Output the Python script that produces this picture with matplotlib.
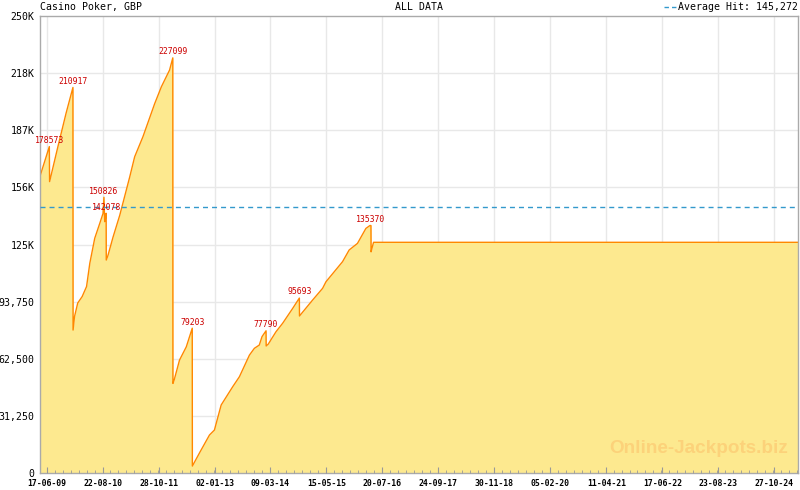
import datetime as dt
import numpy as np
import matplotlib
matplotlib.use("Agg")
import matplotlib.pyplot as plt
import matplotlib.dates as mdates

# ---- data ----
dates = ["2009-04-30", "2009-07-08", "2009-07-10", "2009-09-12", "2009-11-14",
         "2010-01-06", "2010-01-07", "2010-01-18", "2010-02-12", "2010-03-18",
         "2010-04-21", "2010-05-16", "2010-06-23", "2010-08-01", "2010-08-26",
         "2010-09-02", "2010-09-08", "2010-09-13", "2010-09-19", "2010-09-20",
         "2010-10-03", "2010-11-11", "2011-01-02", "2011-03-20", "2011-04-27",
         "2011-06-30", "2011-09-28", "2011-11-19", "2012-01-21", "2012-02-15",
         "2012-02-16", "2012-02-26", "2012-04-07", "2012-05-29", "2012-07-14",
         "2012-07-15", "2012-09-08", "2012-11-24", "2013-01-01", "2013-02-22",
         "2013-05-22", "2013-07-13", "2013-09-28", "2013-11-05", "2013-12-13",
         "2014-01-03", "2014-02-03", "2014-02-04", "2014-02-20", "2014-04-21",
         "2014-06-11", "2014-08-27", "2014-10-18", "2014-10-19", "2015-01-28",
         "2015-04-15", "2015-05-11", "2015-09-16", "2015-11-06", "2016-01-09",
         "2016-03-14", "2016-04-14", "2016-04-22", "2016-04-23", "2016-04-30",
         "2016-05-12", "2025-04-27"]
values = [163000, 178573, 159400, 178500, 196800,
          210917, 78200, 85500, 93000, 96500,
          102000, 114700, 128400, 136600, 142000,
          150826, 137500, 139000, 142078, 116500,
          119000, 129000, 141000, 162000, 173000,
          184000, 202000, 211300, 220400, 227099,
          49000, 51000, 61800, 69000, 79203,
          3800, 11000, 20800, 23500, 37200,
          47200, 52700, 64500, 68200, 70000,
          74600, 77790, 69500, 70500, 77300,
          81900, 90000, 95693, 85900, 94600,
          101000, 104600, 115600, 122000, 125600,
          133800, 135370, 135370, 121000, 123000,
          126200, 126200]

peak_dates = ["2009-07-08", "2010-01-06", "2010-09-02", "2010-09-19", "2012-02-15",
              "2012-07-14", "2014-02-03", "2014-10-18", "2016-04-18"]
peak_values = [178573, 210917, 150826, 142078, 227099, 79203, 77790, 95693, 135370]

average_hit = 145272

y_ticks = [0, 31250, 62500, 93750, 125000, 156250, 187500, 218750, 250000]
y_labels = ["0", "31,250", "62,500", "93,750", "125K", "156K", "187K", "218K", "250K"]
x_labels = ["17-06-09", "22-08-10", "28-10-11", "02-01-13", "09-03-14", "15-05-15",
            "20-07-16", "24-09-17", "30-11-18", "05-02-20", "11-04-21", "17-06-22",
            "23-08-23", "27-10-24"]

title_left = "Casino Poker, GBP"
title_center = "ALL DATA"
legend_text = "Average Hit: 145,272"
watermark = "Online-Jackpots.biz"

# ---- plotting ----
mono = "DejaVu Sans Mono"
fig = plt.figure(figsize=(8, 4.9), dpi=100)
ax = fig.add_axes([40 / 800, 17 / 490, 758 / 800, 457 / 490])

xmin = mdates.date2num(dt.datetime(2009, 4, 27))
xmax = mdates.date2num(dt.datetime(2025, 4, 28))

major = mdates.date2num([dt.datetime.strptime(s, "%d-%m-%y") for s in x_labels])
step = (major[1] - major[0]) / 7
minor = np.arange(major[0] - 7 * step, xmax, step)
minor = minor[(minor >= xmin) & (minor <= xmax)]

# grid drawn manually below the fill
for yv in y_ticks[1:-1]:
    ax.axhline(yv, color="#e8e8e8", lw=1.0, zorder=0.5)
for xv in major:
    ax.axvline(xv, color="#e8e8e8", lw=1.0, zorder=0.5)

x = mdates.date2num([dt.datetime.strptime(d, "%Y-%m-%d") for d in dates])
ax.fill_between(x, values, 0, color="#fde98f", lw=0, zorder=1)
ax.plot(x, values, color="#ff8800", lw=1.0, zorder=2)

ax.axhline(average_hit, color="#3399cc", lw=1.0, dashes=(3.6, 2.9), zorder=3)

px = mdates.date2num([dt.datetime.strptime(d, "%Y-%m-%d") for d in peak_dates])
for xi, v in zip(px, peak_values):
    ax.annotate(str(v), (xi, v), xytext=(0, 1.2), textcoords="offset points",
                ha="center", va="bottom", fontsize=5.9, family=mono,
                color="#cc0000", zorder=4)

ax.set_xticks(major)
ax.set_xticklabels(x_labels, family=mono, fontsize=5.9, fontweight="bold")
ax.set_xticks(minor, minor=True)
ax.tick_params(axis="x", which="major", direction="in", length=4, color="#999999", pad=4)
ax.tick_params(axis="x", which="minor", direction="in", length=2.5, color="#999999")

ax.set_yticks(y_ticks)
ax.set_yticklabels(y_labels, family=mono, fontsize=7.1)
ax.tick_params(axis="y", length=0, pad=4)

ax.set_xlim(xmin, xmax)
ax.set_ylim(0, 250000)
ax.set_axisbelow(False)
for s in ax.spines.values():
    s.set_color("#aaaaaa")
    s.set_linewidth(1.0)

fig.text(40 / 800, 1 - 7 / 490, title_left, family=mono, fontsize=7.1,
         ha="left", va="center")
fig.text(419 / 800, 1 - 7 / 490, title_center, family=mono, fontsize=7.1,
         ha="center", va="center")
fig.text(798 / 800, 1 - 7 / 490, legend_text, family=mono, fontsize=7.1,
         ha="right", va="center")
fig.add_artist(plt.Line2D([664 / 800, 678 / 800], [1 - 7 / 490, 1 - 7 / 490],
                          color="#3399cc", lw=1.0, dashes=(3.2, 2.2)))

ax.text(0.987, 0.035, watermark, transform=ax.transAxes, ha="right", va="bottom",
        fontsize=13.6, family="Liberation Sans", fontweight="bold",
        color="#fcd27a", zorder=1.5)

fig.savefig("out.png", dpi=100)
